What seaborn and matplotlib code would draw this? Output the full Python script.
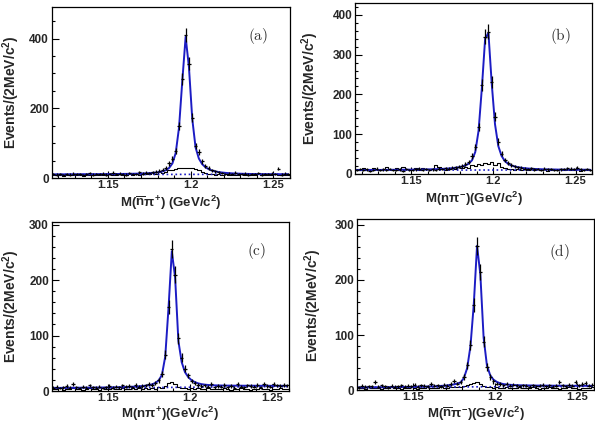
import numpy as np
import pandas as pd
import matplotlib
matplotlib.use("Agg")
import matplotlib.pyplot as plt
import seaborn as sns
from matplotlib.ticker import MultipleLocator

# 2 MeV bins from 1.116 to 1.26 GeV/c^2
edges = np.round(np.arange(1.116, 1.2605, 0.002), 3)
centers = (edges[:-1] + edges[1:]) / 2

# (a) anti-n pi+
data_a = [12, 10, 11, 9, 12, 10, 13, 11, 12, 9, 11, 14, 10, 12, 11, 13, 10, 12, 15, 11,
          13, 12, 10, 14, 12, 11, 16, 13, 15, 14,
          16, 18, 21, 24, 30, 42, 55, 78, 150, 285, 410, 328, 173, 92, 76, 48, 35, 28, 22, 19, 17,
          14, 12, 13, 11, 15, 12, 11, 13, 10, 12, 11, 14, 10, 12, 11, 13, 12, 27, 10, 13, 11]
fit_a = [10.6, 10.6, 10.7, 10.7, 10.8, 10.8, 10.9, 10.9, 11.0, 11.0, 11.1, 11.1, 11.2, 11.2, 11.3,
         11.3, 11.4, 11.5, 11.6, 11.7, 11.8, 11.9, 12.0, 12.2, 12.4, 12.6, 12.9, 13.2, 13.6, 14.1,
         14.8, 15.8, 17.2, 19.2, 22.5, 29, 42, 72, 145, 280, 405, 318, 170, 88, 56, 40, 31, 25.5, 21.5, 19, 17.2,
         16.0, 15.0, 14.2, 13.6, 13.1, 12.7, 12.4, 12.1, 11.9, 11.7, 11.6, 11.5, 11.4, 11.3, 11.2,
         11.2, 11.1, 11.1, 11.0, 11.0, 11.0]
hist_a = [9, 8, 10, 7, 9, 11, 8, 10, 9, 7, 10, 9, 11, 8, 10, 9, 8, 11, 10, 9, 12, 10, 8, 11, 9,
          12, 10, 11, 13, 12,
          14, 13, 16, 15, 18, 22, 24, 27, 28, 30, 29, 28, 30, 26, 22, 17, 14, 12, 11, 10, 12,
          9, 11, 10, 8, 10, 9, 11, 10, 8, 9, 10, 11, 9, 8, 10, 9, 11, 10, 9, 10, 8]
bg_a = [10, 11]

# (b) n pi-
data_b = [10, 12, 9, 11, 8, 10, 13, 9, 11, 10, 12, 9, 10, 11, 8, 12, 10, 9, 11, 13, 10, 12, 9,
          11, 10, 13, 12, 14, 13, 15,
          16, 18, 20, 24, 30, 45, 68, 118, 224, 345, 358, 232, 144, 81, 51, 35, 27, 22, 19, 16, 15,
          13, 12, 14, 11, 12, 10, 13, 11, 12, 10, 9, 11, 12, 14, 13, 12, 15, 11, 10, 12, 9]
fit_b = [9.5, 9.5, 9.6, 9.6, 9.7, 9.7, 9.8, 9.8, 9.9, 9.9, 10.0, 10.0, 10.1, 10.1, 10.2, 10.3,
         10.4, 10.5, 10.6, 10.7, 10.8, 11.0, 11.2, 11.4, 11.7, 12.0, 12.4, 12.9, 13.5, 14.2,
         15.2, 16.5, 18.3, 21, 25.5, 34, 55, 108, 215, 340, 355, 228, 125, 70, 45, 32, 25, 21, 18.5, 16.5, 15.2,
         14.2, 13.4, 12.8, 12.3, 11.9, 11.6, 11.3, 11.1, 10.9, 10.8, 10.7, 10.6, 10.5, 10.4, 10.4,
         10.3, 10.3, 10.2, 10.2, 10.2, 10.1]
hist_b = [12, 10, 14, 9, 11, 15, 12, 10, 13, 16, 11, 12, 14, 10, 17, 12, 13, 11, 15, 10, 14, 12,
          13, 11, 21, 16, 12, 10, 13, 15,
          12, 16, 14, 18, 15, 22, 19, 25, 21, 28, 24, 30, 22, 26, 16, 14, 11, 13, 10, 12, 9,
          11, 10, 13, 9, 12, 10, 11, 8, 10, 12, 9, 11, 10, 13, 9, 10, 12, 8, 11, 10, 9]
bg_b = [9, 10]

# (c) n pi+
data_c = [6, 8, 5, 7, 9, 6, 12, 7, 5, 8, 6, 10, 7, 6, 8, 5, 7, 9, 6, 8, 7, 10, 8, 9, 7, 11, 8,
          9, 10, 12,
          11, 14, 19, 31, 65, 151, 256, 210, 95, 60, 40, 28, 18, 14, 11, 9, 10, 8, 12, 7, 9,
          8, 11, 7, 9, 6, 12, 8, 7, 10, 9, 8, 11, 7, 13, 9, 8, 12, 10, 9, 11, 10]
fit_c = [5.5, 5.6, 5.6, 5.7, 5.7, 5.8, 5.8, 5.9, 5.9, 6.0, 6.0, 6.1, 6.1, 6.2, 6.3, 6.3, 6.4,
         6.5, 6.6, 6.7, 6.8, 7.0, 7.2, 7.4, 7.7, 8.0, 8.4, 8.9, 9.5, 10.5,
         12, 14.5, 19, 29, 62, 150, 252, 205, 90, 52, 34, 25, 19.5, 16, 13.8, 12.4, 11.5, 10.9, 10.5, 10.2, 10.0,
         9.9, 9.8, 9.7, 9.7, 9.6, 9.6, 9.6, 9.5, 9.5, 9.5, 9.5, 9.4, 9.4, 9.4, 9.4, 9.4, 9.3, 9.3,
         9.3, 9.3, 9.3]
hist_c = [4, 3, 5, 2, 4, 3, 5, 4, 3, 2, 4, 5, 3, 4, 2, 5, 3, 4, 6, 3, 4, 5, 3, 4, 5, 3, 6, 4, 5, 4,
          5, 4, 7, 6, 9, 15, 16, 12, 8, 6, 5, 4, 6, 3, 5, 4, 3, 5, 4, 3, 4,
          3, 5, 4, 2, 4, 3, 5, 3, 4, 2, 4, 3, 5, 4, 3, 2, 4, 3, 5, 4, 3]
bg_c = [5, 8]

# (d) anti-n pi-
data_d = [5, 8, 6, 7, 7, 14, 6, 9, 7, 5, 8, 6, 7, 9, 6, 8, 7, 10, 6, 9, 8, 7, 11, 8, 9, 7, 10,
          8, 11, 17,
          12, 15, 24, 45, 82, 155, 262, 215, 88, 42, 24, 16, 12, 11, 9, 12, 8, 10, 9, 7, 9,
          8, 6, 9, 7, 8, 10, 7, 9, 6, 8, 15, 9, 7, 10, 8, 14, 9, 11, 13, 8, 10]
fit_d = [5.0, 5.0, 5.1, 5.1, 5.2, 5.2, 5.3, 5.3, 5.4, 5.4, 5.5, 5.5, 5.6, 5.7, 5.8, 5.8, 5.9,
         6.0, 6.1, 6.3, 6.4, 6.6, 6.8, 7.0, 7.3, 7.7, 8.1, 8.7, 9.4, 10.5,
         12, 14, 22, 40, 80, 155, 262, 210, 95, 45, 27, 19, 15, 12.5, 11, 10.2, 9.7, 9.3, 9.0, 8.8, 8.7,
         8.6, 8.5, 8.4, 8.3, 8.3, 8.2, 8.2, 8.1, 8.1, 8.1, 8.0, 8.0, 8.0, 8.0, 7.9, 7.9, 7.9, 7.9,
         7.9, 7.8, 7.8]
hist_d = [3, 4, 2, 5, 3, 4, 3, 2, 4, 3, 5, 3, 4, 2, 3, 4, 5, 3, 2, 4, 3, 5, 4, 3, 4, 5, 3, 4, 6, 5,
          6, 5, 8, 9, 11, 13, 15, 12, 8, 5, 6, 4, 5, 3, 4, 5, 3, 4, 3, 5, 4,
          3, 4, 5, 3, 2, 4, 3, 5, 4, 3, 2, 4, 3, 5, 3, 4, 2, 3, 4, 3, 5]
bg_d = [5, 7]

xlabels = [r"M($\overline{n}\pi^{+}$) (GeV/c$^{2}$)", r"M(n$\pi^{-}$)(GeV/c$^{2}$)",
           r"M(n$\pi^{+}$)(GeV/c$^{2}$)", r"M($\overline{n}\pi^{-}$)(GeV/c$^{2}$)"]
tags = ["(a)", "(b)", "(c)", "(d)"]
ymax = [490, 430, 305, 310]
ymajor = [200, 100, 100, 100]
yminor = [50, 20, 20, 20]

sns.set_theme(style="ticks")
plt.rcParams["font.family"] = ["Liberation Sans", "DejaVu Sans"]
plt.rcParams["font.weight"] = "bold"
plt.rcParams["mathtext.fontset"] = "custom"
plt.rcParams["mathtext.rm"] = "Liberation Sans:bold"
plt.rcParams["mathtext.it"] = "Liberation Sans:bold"
plt.rcParams["mathtext.bf"] = "Liberation Sans:bold"

blue = "#1c1cc4"
fig = plt.figure(figsize=(5.95, 4.25), dpi=100)
boxes = [[0.087, 0.581, 0.400, 0.402], [0.597, 0.591, 0.398, 0.402],
         [0.087, 0.080, 0.398, 0.398], [0.600, 0.082, 0.398, 0.402]]
label_x = [-0.125, -0.145, -0.125, -0.14]
xlabel_y = [-0.09, -0.095, -0.08, -0.085]
tag_xy = [(0.866, 0.83), (0.865, 0.807), (0.865, 0.83), (0.857, 0.807)]

panels = [(data_a, fit_a, hist_a, bg_a), (data_b, fit_b, hist_b, bg_b),
          (data_c, fit_c, hist_c, bg_c), (data_d, fit_d, hist_d, bg_d)]

for i, (data, fit, hist, bg) in enumerate(panels):
    ax = fig.add_axes(boxes[i])
    df = pd.DataFrame({"mass": centers, "counts": data, "fit": fit, "hist": hist})
    sns.histplot(data=df, x="mass", weights="hist", binwidth=0.002,
                 binrange=(edges[0], edges[-1]), element="step",
                 fill=False, color="black", linewidth=0.8, ax=ax)
    sns.lineplot(x=[edges[0], edges[-1]], y=bg, color=blue, linestyle=":",
                 linewidth=1.2, ax=ax)
    sns.lineplot(data=df, x="mass", y="fit", color=blue, linewidth=1.4, ax=ax)
    ax.errorbar(df["mass"], df["counts"], xerr=0.001, yerr=np.sqrt(df["counts"]),
                fmt="none", ecolor="black", elinewidth=0.9, capsize=0)

    ax.set_xlim(edges[0], edges[-1])
    ax.set_ylim(0, ymax[i])
    ax.set_xticks([1.15, 1.2, 1.25])
    ax.set_xticklabels(["1.15", "1.2", "1.25"])
    ax.xaxis.set_minor_locator(MultipleLocator(0.01))
    ax.yaxis.set_major_locator(MultipleLocator(ymajor[i]))
    ax.yaxis.set_minor_locator(MultipleLocator(yminor[i]))
    ax.tick_params(which="both", direction="in", top=False, right=False,
                   width=0.8, color="black")
    ax.tick_params(axis="y", labelsize=8.5, pad=2)
    ax.tick_params(axis="x", labelsize=8, pad=1.5)
    ax.tick_params(which="major", length=5)
    ax.tick_params(which="minor", length=2.5)
    for lab in ax.get_xticklabels() + ax.get_yticklabels():
        lab.set_fontweight("bold")
    for sp in ax.spines.values():
        sp.set_visible(True)
        sp.set_color("black")
        sp.set_linewidth(0.9)

    ax.set_ylabel(r"Events/(2MeV/c$^{2}$)", fontsize=10, fontweight="bold")
    ax.set_xlabel(xlabels[i], fontsize=9.5, fontweight="bold")
    ax.yaxis.set_label_coords(label_x[i], 0.5)
    ax.xaxis.set_label_coords(0.5, xlabel_y[i])
    ax.text(tag_xy[i][0], tag_xy[i][1], r"$\mathrm{" + tags[i] + "}$", transform=ax.transAxes,
            ha="center", va="center", fontsize=11, math_fontfamily="cm", color="#333333")

fig.savefig("out.png", dpi=100)
